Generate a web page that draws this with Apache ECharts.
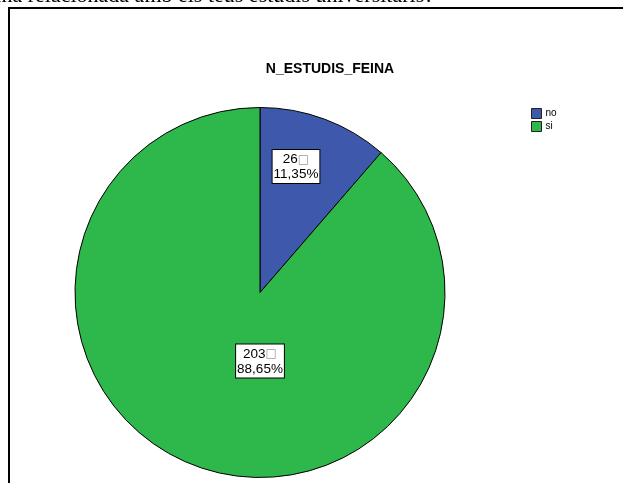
<!DOCTYPE html>
<html>
<head>
<meta charset="utf-8">
<script src="https://cdn.jsdelivr.net/npm/echarts@6/dist/echarts.min.js"></script>
<style>html,body{margin:0;padding:0;background:#fff}#c{width:623px;height:483px}</style>
</head>
<body>
<div id="c"></div>
<script>
const categories = ['no', 'si'];
const counts = [26, 203];
const percents = ['11,35%', '88,65%'];
const colors = ['#3e58ac', '#2eb84b'];
const titleText = 'N_ESTUDIS_FEINA';
const questionText = 'feina relacionada amb els teus estudis universitaris?';

const labelPos = [[296, 166.5], [260, 361]];

const chart = echarts.init(document.getElementById('c'), null, {renderer: 'canvas'});
chart.setOption({
  animation: false,
  backgroundColor: '#fff',
  title: {
    text: titleText, left: 325, top: 57, textAlign: 'center',
    textStyle: {fontFamily: 'Arial, Liberation Sans', fontWeight: 'bold', fontSize: 14, color: '#000'}
  },
  legend: {
    orient: 'vertical', left: 531, top: 108, itemWidth: 10, itemHeight: 10, itemGap: 2,
    padding: 0,
    icon: 'rect',
    itemStyle: {borderColor: '#222', borderWidth: 1},
    textStyle: {fontFamily: 'Arial, Liberation Sans', fontSize: 10, color: '#000', padding: [0,0,0,-1]},
    data: categories
  },
  graphic: [
    {type: 'text', style: {text: questionText, x: 434, y: 7, textAlign: 'right', textVerticalAlign: 'bottom', font: '22px "Liberation Serif", "Times New Roman", serif', fill: '#000'}},
    {type: 'polyline', shape: {points: [[9, 483], [9, 8], [623, 8]]}, style: {stroke: '#000', lineWidth: 2, fill: null}}
  ],
  series: [{
    type: 'pie',
    center: [260, 292.5],
    radius: 185,
    startAngle: 90,
    clockwise: true,
    legendHoverLink: false,
    emphasis: {disabled: true},
    itemStyle: {borderColor: '#000', borderWidth: 1},
    label: {
      show: true, position: 'inside',
      formatter: p => '{a|' + counts[p.dataIndex] + '}{b|□}\n{a|' + percents[p.dataIndex] + '}',
      backgroundColor: '#fff', borderColor: '#000', borderWidth: 1,
      padding: [2, 1, 1, 1],
      rich: {
        a: {fontFamily: 'Arial, Liberation Sans', fontSize: 13.5, color: '#000', lineHeight: 15},
        b: {fontFamily: '"DejaVu Sans", Arial', fontSize: 12, color: '#999', lineHeight: 15}
      }
    },
    labelLayout: p => ({x: labelPos[p.dataIndex][0], y: labelPos[p.dataIndex][1], align: 'center', verticalAlign: 'middle'}),
    labelLine: {show: false},
    data: categories.map((c, i) => ({name: c, value: counts[i], itemStyle: {color: colors[i]}}))
  }]
});
</script>
</body>
</html>
